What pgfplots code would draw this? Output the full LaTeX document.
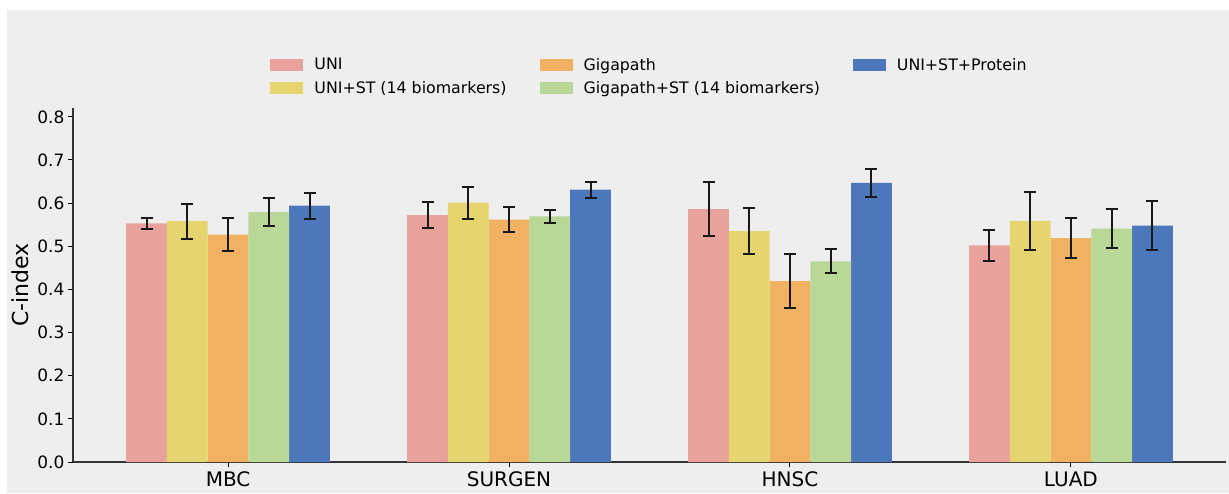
\documentclass[border=0pt]{standalone}
\usepackage{pgfplots}
\pgfplotsset{compat=1.18}
\usepackage{fontspec}
\setmainfont{DejaVu Sans}
\definecolor{bggray}{HTML}{EEEEEE}
\definecolor{cuni}{HTML}{E8A29B}
\definecolor{cunist}{HTML}{E6D56E}
\definecolor{cgiga}{HTML}{F0B262}
\definecolor{cgigast}{HTML}{B9D796}
\definecolor{cprot}{HTML}{4C78BB}
\definecolor{spine}{HTML}{333333}

\pgfplotsset{
  mybar/.style={fill=#1, draw=none,
    legend image code/.code={\path[fill=#1] (0pt,-6pt) rectangle (33pt,6pt);
      \path (42pt,0pt);}},
}

\begin{document}
\begin{tikzpicture}[x=1pt,y=1pt]
\fill[white] (0,0) rectangle (1229,493);
\fill[bggray] (7,0) rectangle (1229,483);
\begin{axis}[
  at={(73pt,31pt)}, anchor=south west,
  scale only axis, width=1153pt, height=353.8pt,
  ybar, bar width=0.145,
  xmin=-0.552, xmax=3.552, ymin=0, ymax=0.82,
  enlargelimits=false,
  axis lines*=left,
  axis line style={spine, line width=1.3pt},
  tick style={black, line width=1pt},
  major tick length=5pt,
  tick align=outside,
  xtick={0,1,2,3},
  xticklabels={MBC,SURGEN,HNSC,LUAD},
  xticklabel style={font=\fontsize{20}{24}\selectfont, yshift=-1pt},
  ytick={0,0.1,0.2,0.3,0.4,0.5,0.6,0.7,0.8},
  yticklabel style={font=\fontsize{17}{20}\selectfont,
    /pgf/number format/.cd, fixed, fixed zerofill, precision=1, assume math mode=true},
  ylabel={C-index},
  ylabel style={font=\fontsize{22}{26}\selectfont, at={(axis description cs:-0.046,0.5)}, anchor=center},
  legend columns=3,
  legend cell align=left,
  legend style={draw=none, fill=none, at={(0.5,1.089)}, anchor=center,
    font=\fontsize{15.8}{19}\selectfont,
    /tikz/every even column/.append style={column sep=31pt},
    row sep=6pt},
  error bars/y dir=both, error bars/y explicit,
  error bars/error bar style={line width=2pt, black!90},
  error bars/error mark options={rotate=90, mark size=6pt, line width=2pt, black!90},
]
% UNI
\addplot[mybar=cuni, bar shift=-0.29] coordinates {
  (0,0.553) +- (0,0.012)
  (1,0.572) +- (0,0.030)
  (2,0.586) +- (0,0.062)
  (3,0.502) +- (0,0.036)
};
\addlegendentry{UNI}
% Gigapath
\addplot[mybar=cgiga, bar shift=0] coordinates {
  (0,0.527) +- (0,0.038)
  (1,0.562) +- (0,0.030)
  (2,0.419) +- (0,0.062)
  (3,0.519) +- (0,0.046)
};
\addlegendentry{Gigapath}
% UNI+ST+Protein
\addplot[mybar=cprot, bar shift=0.29] coordinates {
  (0,0.594) +- (0,0.030)
  (1,0.631) +- (0,0.019)
  (2,0.647) +- (0,0.032)
  (3,0.548) +- (0,0.056)
};
\addlegendentry{UNI+ST+Protein}
% UNI+ST
\addplot[mybar=cunist, bar shift=-0.145] coordinates {
  (0,0.558) +- (0,0.041)
  (1,0.601) +- (0,0.037)
  (2,0.535) +- (0,0.054)
  (3,0.559) +- (0,0.067)
};
\addlegendentry{UNI+ST (14 biomarkers)}
% Gigapath+ST
\addplot[mybar=cgigast, bar shift=0.145] coordinates {
  (0,0.579) +- (0,0.033)
  (1,0.569) +- (0,0.016)
  (2,0.465) +- (0,0.028)
  (3,0.541) +- (0,0.046)
};
\addlegendentry{Gigapath+ST (14 biomarkers)}
\end{axis}
\pgfresetboundingbox
\path (0,0) rectangle (1229,493);
\end{tikzpicture}
\end{document}
